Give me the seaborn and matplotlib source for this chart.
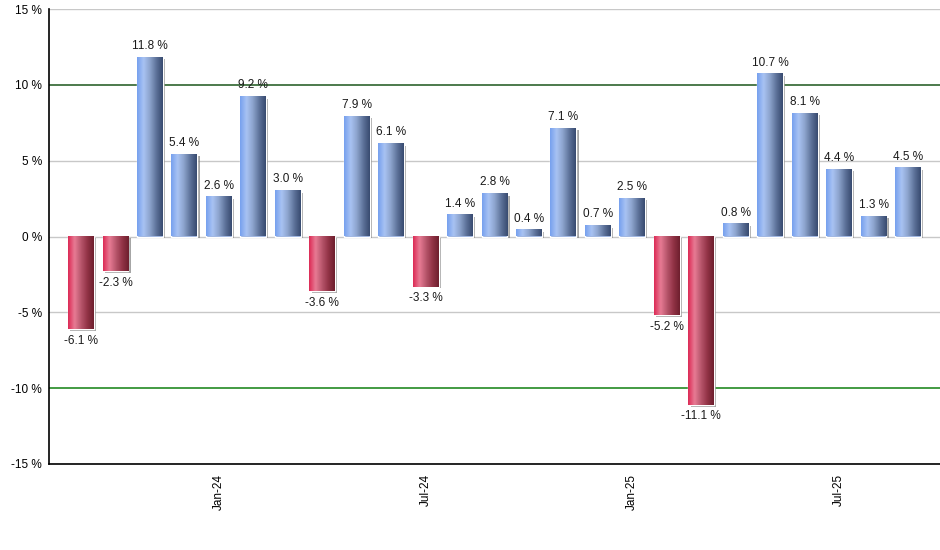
import numpy as np
import pandas as pd
import seaborn as sns
import matplotlib.pyplot as plt
import matplotlib.patheffects as pe
from matplotlib.colors import LinearSegmentedColormap

# monthly returns, Sep-23 .. Sep-25
months = pd.date_range("2023-09-01", periods=25, freq="MS")
returns = [-6.1, -2.3, 11.8, 5.4, 2.6, 9.2, 3.0, -3.6, 7.9, 6.1, -3.3, 1.4, 2.8,
           0.4, 7.1, 0.7, 2.5, -5.2, -11.1, 0.8, 10.7, 8.1, 4.4, 1.3, 4.5]
tick_months = ["Jan-24", "Jul-24", "Jan-25", "Jul-25"]
y_ticks = [-15, -10, -5, 0, 5, 10, 15]

df = pd.DataFrame({"month": months.strftime("%b-%y"), "ret": returns})
df["sign"] = np.where(df["ret"] >= 0, "pos", "neg")

sns.set_theme(style="white")
plt.rcParams["font.family"] = ["Liberation Sans", "DejaVu Sans"]

fig = plt.figure(figsize=(9.4, 5.5), dpi=100)
ax = fig.add_axes([49 / 940, 1 - 464 / 550, 891 / 940, 455 / 550])

# reference lines behind the bars
for y in y_ticks:
    if y == 10:
        ax.axhline(y, color="#1b561b", lw=1.1, zorder=0)
    elif y == -10:
        ax.axhline(y, color="#108010", lw=1.1, zorder=0)
    else:
        ax.axhline(y, color="#c8c8c8", lw=1.0, zorder=0)

sns.barplot(data=df, x="month", y="ret", hue="sign",
            palette={"pos": "#7fa3e8", "neg": "#d9365c"},
            dodge=False, legend=False, width=0.75, ax=ax, zorder=2)

blue = LinearSegmentedColormap.from_list(
    "b", ["#76a0ee", "#a9c3f3", "#8ca3cc", "#5d7299", "#384b70"])
red = LinearSegmentedColormap.from_list(
    "r", ["#dc2a55", "#e87c95", "#b8566c", "#923346", "#6e1f2e"])
grad = np.linspace(0, 1, 64).reshape(1, -1)

# hue groups the patches, so put them back in x order
bars = sorted(ax.patches, key=lambda p: p.get_x())
for p, v in zip(bars, df["ret"]):
    x0, w = p.get_x(), p.get_width()
    p.set_path_effects([pe.SimplePatchShadow(offset=(1.6, -1.2), shadow_rgbFace="#808080", alpha=0.7),
                        pe.Normal()])
    ax.imshow(grad, extent=[x0, x0 + w, 0, v], aspect="auto",
              cmap=blue if v >= 0 else red, zorder=3, interpolation="bicubic")
    off = 4 if v >= 0 else -4
    ax.annotate(f"{v:.1f} %", (x0 + w / 2, v), xytext=(0, off), textcoords="offset points",
                ha="center", va="bottom" if v >= 0 else "top", fontsize=8.5, color="#1a1a1a")

ax.set_xlim(-0.93, len(df) - 0.07)
ax.set_ylim(-15, 15)
ax.set_yticks(y_ticks)
ax.set_yticklabels([f"{t} %" for t in y_ticks], fontsize=8.5)
labels = list(df["month"])
ax.set_xticks([labels.index(m) for m in tick_months])
ax.set_xticklabels(tick_months, rotation=90, fontsize=8.5)
ax.tick_params(axis="x", direction="out", length=4, width=1, colors="black", pad=3)
ax.tick_params(axis="y", direction="out", length=3, width=1, colors="black", pad=2)
ax.set_xlabel("")
ax.set_ylabel("")
for s in ["top", "right"]:
    ax.spines[s].set_visible(False)
for s in ["left", "bottom"]:
    ax.spines[s].set_color("black")
    ax.spines[s].set_linewidth(1.2)

fig.savefig("out.png", dpi=100)
